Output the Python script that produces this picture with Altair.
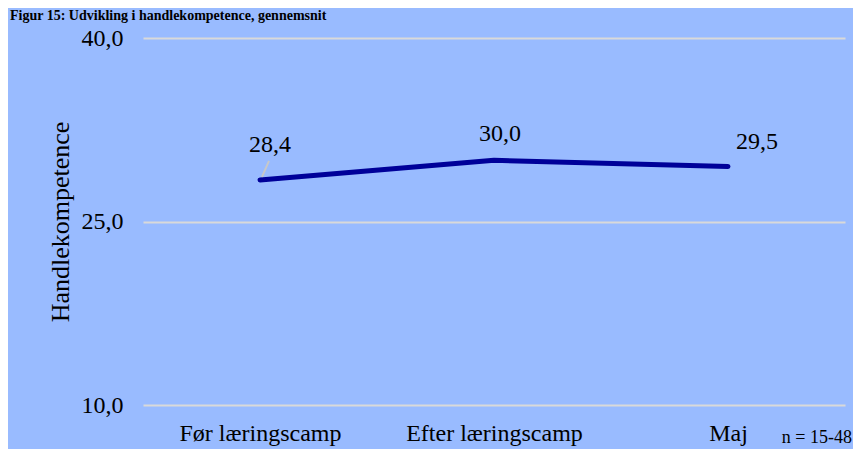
import altair as alt
import pandas as pd

# ---- data ----
categories = ["Før læringscamp", "Efter læringscamp", "Maj"]
values = [28.4, 30.0, 29.5]
value_labels = ["28,4", "30,0", "29,5"]
y_ticks = [10, 25, 40]
title_text = "Figur 15: Udvikling i handlekompetence, gennemsnit"
y_title = "Handlekompetence"
note_text = "n = 15-48"

# ---- style ----
FONT = "Liberation Serif"
BG = "#99BBFF"
LINE_COLOR = "#000099"
GRID_COLOR = "#D9D9D9"
label_offsets = [(10, -28), (6, -19), (29, -17)]

df = pd.DataFrame({"kategori": categories, "vaerdi": values, "label": value_labels})

x_enc = alt.X(
    "kategori:N",
    sort=categories,
    scale=alt.Scale(type="point", padding=0.5),
    axis=alt.Axis(
        title=None, labelAngle=0, ticks=False, tickSize=0, domain=False, grid=False,
        labelPadding=35, labelBaseline="alphabetic", labelFont=FONT, labelFontSize=24,
        labelColor="black",
    ),
)
y_enc = alt.Y(
    "vaerdi:Q",
    scale=alt.Scale(domain=[10, 40], nice=False, zero=False),
    axis=alt.Axis(
        values=y_ticks,
        labelExpr="replace(format(datum.value, '.1f'), '.', ',')",
        ticks=False, tickSize=0, domain=False, labelPadding=20,
        labelFont=FONT, labelFontSize=24, labelColor="black",
        grid=True, gridColor=GRID_COLOR, gridWidth=2,
        title=y_title, titleFont=FONT, titleFontSize=26, titleFontWeight="normal",
        titleColor="black", titleX=-75, titleY=183.5, titleAngle=270,
        titleAlign="center", titleBaseline="alphabetic",
    ),
)

base = alt.Chart(df)

line = base.mark_line(color=LINE_COLOR, strokeWidth=5, strokeCap="round", strokeJoin="round").encode(
    x=x_enc, y=y_enc
)

leader = base.transform_filter(alt.datum.kategori == categories[0]).mark_rule(
    color="#C8C8C8", strokeWidth=2, xOffset=2, yOffset=-3, x2Offset=9, y2Offset=-19
).encode(
    x=alt.X("kategori:N", sort=categories),
    y=alt.Y("vaerdi:Q"),
    x2=alt.X2("kategori"),
    y2=alt.Y2("vaerdi"),
)

label_layers = []
for cat, (dx, dy) in zip(categories, label_offsets):
    label_layers.append(
        base.transform_filter(alt.datum.kategori == cat)
        .mark_text(font=FONT, fontSize=24, color="black", align="center",
                   baseline="alphabetic", dx=dx, dy=dy)
        .encode(x=alt.X("kategori:N", sort=categories), y=alt.Y("vaerdi:Q"), text="label:N")
    )

note = alt.Chart(pd.DataFrame({"t": [note_text]})).mark_text(
    font=FONT, fontSize=18, color="black", align="right", baseline="alphabetic"
).encode(x=alt.value(709), y=alt.value(405), text="t:N")

title = alt.Chart(pd.DataFrame({"t": [title_text]})).mark_text(
    font=FONT, fontSize=14, fontWeight="bold", color="black", align="left", baseline="alphabetic"
).encode(x=alt.value(-133), y=alt.value(-18), text="t:N")

chart = alt.layer(line, leader, *label_layers, note, title).properties(
    width=702,
    height=367,
    autosize=alt.AutoSizeParams(type="none"),
    padding={"left": 135, "top": 30, "right": 8, "bottom": 44},
    background=BG,
).configure_view(stroke=None)

chart.save("out.html", embed_options={"renderer": "svg", "actions": False})
